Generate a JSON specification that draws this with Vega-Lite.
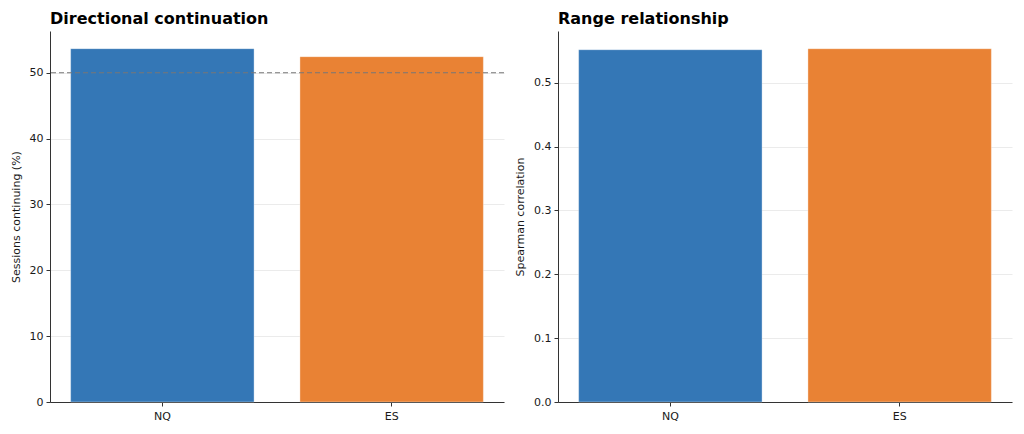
{
  "$schema": "https://vega.github.io/schema/vega-lite/v6.json",
  "padding": {"left": 10, "top": 11, "right": 12, "bottom": 8},
  "background": "white",
  "spacing": 9,
  "config": {
    "font": "DejaVu Sans",
    "view": {"stroke": null},
    "axis": {
      "labelFont": "DejaVu Sans",
      "titleFont": "DejaVu Sans",
      "labelFontSize": 11,
      "titleFontSize": 11,
      "titleFontWeight": "normal",
      "labelColor": "#1a1a1a",
      "titleColor": "#1a1a1a",
      "domainColor": "#333333",
      "tickColor": "#333333",
      "tickSize": 4,
      "labelPadding": 3,
      "domainWidth": 1,
      "zindex": 1
    },
    "title": {
      "font": "DejaVu Sans",
      "fontSize": 16,
      "fontWeight": "bold",
      "anchor": "start",
      "frame": "group",
      "color": "#000000",
      "offset": 4
    }
  },
  "datasets": {
    "cont": [
      {"market": "NQ", "value": 53.65},
      {"market": "ES", "value": 52.43}
    ],
    "corr": [
      {"market": "NQ", "value": 0.5517},
      {"market": "ES", "value": 0.5533}
    ]
  },
  "hconcat": [
    {
      "width": 454,
      "height": 371,
      "title": {"text": "Directional continuation"},
      "layer": [
        {
          "data": {"name": "cont"},
          "mark": {"type": "bar", "stroke": "white", "strokeWidth": 0.6, "strokeOpacity": 0.6},
          "encoding": {
            "x": {
              "field": "market", "type": "nominal", "sort": ["NQ", "ES"],
              "scale": {"paddingInner": 0.2, "paddingOuter": 0.09},
              "axis": {"title": null, "labelAngle": 0, "grid": false, "labelPadding": 4}
            },
            "y": {
              "field": "value", "type": "quantitative",
              "scale": {"domain": [0, 56.33], "nice": false},
              "axis": {
                "title": "Sessions continuing (%)",
                "values": [0, 10, 20, 30, 40, 50],
                "grid": true, "gridColor": "#d8d8d8", "gridOpacity": 0.5,
                "titlePadding": 8
              }
            },
            "color": {
              "field": "market", "type": "nominal",
              "scale": {"domain": ["NQ", "ES"], "range": ["#3477b6", "#e98234"]},
              "legend": null
            }
          }
        },
        {
          "data": {"values": [{"ref": 50}]},
          "mark": {"type": "rule", "color": "#777777", "strokeDash": [5, 3], "strokeWidth": 1.1},
          "encoding": {
            "y": {"field": "ref", "type": "quantitative"}
          }
        }
      ]
    },
    {
      "width": 454,
      "height": 371,
      "title": {"text": "Range relationship"},
      "data": {"name": "corr"},
      "mark": {"type": "bar", "stroke": "white", "strokeWidth": 0.6, "strokeOpacity": 0.6},
      "encoding": {
        "x": {
          "field": "market", "type": "nominal", "sort": ["NQ", "ES"],
          "scale": {"paddingInner": 0.2, "paddingOuter": 0.09},
          "axis": {"title": null, "labelAngle": 0, "grid": false, "labelPadding": 4}
        },
        "y": {
          "field": "value", "type": "quantitative",
          "scale": {"domain": [0, 0.581], "nice": false},
          "axis": {
            "title": "Spearman correlation",
            "values": [0, 0.1, 0.2, 0.3, 0.4, 0.5],
            "format": ".1f",
            "grid": true, "gridColor": "#d8d8d8", "gridOpacity": 0.5,
            "titlePadding": 8
          }
        },
        "color": {
          "field": "market", "type": "nominal",
          "scale": {"domain": ["NQ", "ES"], "range": ["#3477b6", "#e98234"]},
          "legend": null
        }
      }
    }
  ]
}
